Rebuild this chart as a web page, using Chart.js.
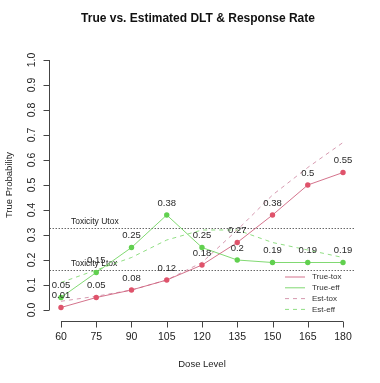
<!DOCTYPE html>
<html>
<head>
<meta charset="utf-8">
<script src="https://cdn.jsdelivr.net/npm/chart.js@4.4.1/dist/chart.umd.min.js"></script>
<style>
  html, body { margin: 0; padding: 0; background: #fff; }
  #wrap { width: 380px; height: 383px; }
</style>
</head>
<body>
<div id="wrap"><canvas id="c" width="380" height="383"></canvas></div>
<script>
// dose levels and probabilities
const doses = [60, 75, 90, 105, 120, 135, 150, 165, 180];
const trueTox = [0.01, 0.05, 0.08, 0.12, 0.18, 0.27, 0.38, 0.5, 0.55];
const trueEff = [0.05, 0.15, 0.25, 0.38, 0.25, 0.2, 0.19, 0.19, 0.19];
const estTox = [0.035, 0.055, 0.08, 0.12, 0.19, 0.32, 0.46, 0.57, 0.67];
const estEff = [0.11, 0.16, 0.21, 0.28, 0.32, 0.32, 0.27, 0.24, 0.21];
const yTicks = [0, 0.1, 0.2, 0.3, 0.4, 0.5, 0.6, 0.7, 0.8, 0.9, 1.0];
const refLabels = ['Toxicity Utox', 'Toxicity Ltox'];
const refValues = [0.33, 0.16];

const RED = '#DF536B';
const GREEN = '#61D04F';
const FONT = '"Liberation Sans", Arial, sans-serif';

const pts = (arr) => doses.map((d, i) => ({ x: d, y: arr[i] }));

// R style axes, reference lines, labels, legend
const rPlot = {
    id: 'rPlot',
    beforeDatasetsDraw(chart) {
        const { ctx, chartArea: a, scales: { x, y } } = chart;
        ctx.save();
        ctx.strokeStyle = '#222';
        ctx.lineWidth = 1;
        ctx.setLineDash([1, 2]);
        refValues.forEach((v, i) => {
            const py = Math.round(y.getPixelForValue(v)) + 0.5;
            ctx.beginPath();
            ctx.moveTo(a.left, py);
            ctx.lineTo(a.right, py);
            ctx.stroke();
            ctx.fillStyle = '#222';
            ctx.font = '8.5px ' + FONT;
            ctx.textAlign = 'left';
            ctx.textBaseline = 'middle';
            ctx.fillText(refLabels[i], x.getPixelForValue(doses[0]) + 10, py - 7);
        });
        ctx.restore();
    },
    afterDraw(chart) {
        const { ctx, chartArea: a, scales: { x, y } } = chart;
        ctx.save();
        ctx.strokeStyle = '#444';
        ctx.lineWidth = 1;
        ctx.fillStyle = '#222';

        // y axis
        const ax = Math.round(a.left) - 0.5;
        ctx.beginPath();
        ctx.moveTo(ax, y.getPixelForValue(yTicks[0]));
        ctx.lineTo(ax, y.getPixelForValue(yTicks[yTicks.length - 1]));
        yTicks.forEach(v => {
            const py = Math.round(y.getPixelForValue(v)) + 0.5;
            ctx.moveTo(ax, py);
            ctx.lineTo(ax - 6, py);
        });
        ctx.stroke();
        ctx.font = '10.5px ' + FONT;
        ctx.textAlign = 'center';
        ctx.textBaseline = 'middle';
        yTicks.forEach(v => {
            ctx.save();
            ctx.translate(ax - 17, y.getPixelForValue(v));
            ctx.rotate(-Math.PI / 2);
            ctx.fillText(v.toFixed(1), 0, 0);
            ctx.restore();
        });

        // x axis
        const ay = Math.round(a.bottom) + 1.5;
        ctx.beginPath();
        ctx.moveTo(x.getPixelForValue(doses[0]), ay);
        ctx.lineTo(x.getPixelForValue(doses[doses.length - 1]), ay);
        doses.forEach(d => {
            const px = Math.round(x.getPixelForValue(d)) + 0.5;
            ctx.moveTo(px, ay);
            ctx.lineTo(px, ay + 6);
        });
        ctx.stroke();
        doses.forEach(d => {
            ctx.fillText(String(d), x.getPixelForValue(d), ay + 16);
        });

        // titles
        const cx = (a.left + a.right) / 2;
        ctx.font = '9.5px ' + FONT;
        ctx.fillText('Dose Level', cx, 364);
        ctx.save();
        ctx.translate(9, (a.top + a.bottom) / 2);
        ctx.rotate(-Math.PI / 2);
        ctx.fillText('True Probability', 0, 0);
        ctx.restore();
        ctx.font = 'bold 12px ' + FONT;
        ctx.fillStyle = '#111';
        ctx.fillText('True vs. Estimated DLT & Response Rate', cx - 4, 19);

        // value labels above true points
        ctx.font = '9.5px ' + FONT;
        ctx.fillStyle = '#2a2a2a';
        [0, 1].forEach(di => {
            const meta = chart.getDatasetMeta(di);
            const vals = chart.data.datasets[di].data;
            meta.data.forEach((el, i) => {
                ctx.fillText(String(vals[i].y), el.x, el.y - 12);
            });
        });

        // legend, bottom right inside plot
        const items = chart.data.datasets;
        const lx = 285, tx = 312;
        ctx.font = '8px ' + FONT;
        ctx.textAlign = 'left';
        items.forEach((ds, i) => {
            const py = 277 + i * 10.8;
            ctx.strokeStyle = ds.borderColor;
            ctx.setLineDash(ds.borderDash || []);
            ctx.beginPath();
            ctx.moveTo(lx, py);
            ctx.lineTo(lx + 20, py);
            ctx.stroke();
            ctx.fillStyle = '#333';
            ctx.fillText(ds.label, tx, py);
        });
        ctx.restore();
    }
};

new Chart(document.getElementById('c'), {
    type: 'scatter',
    data: {
        datasets: [
            {
                label: 'True-tox',
                data: pts(trueTox),
                showLine: true,
                borderColor: 'rgba(205,90,120,0.85)',
                borderWidth: 1,
                pointBackgroundColor: RED,
                pointBorderWidth: 0,
                pointRadius: 2.7
            },
            {
                label: 'True-eff',
                data: pts(trueEff),
                showLine: true,
                borderColor: 'rgba(97,208,79,0.8)',
                borderWidth: 1,
                pointBackgroundColor: GREEN,
                pointBorderWidth: 0,
                pointRadius: 2.7
            },
            {
                label: 'Est-tox',
                data: pts(estTox),
                showLine: true,
                borderColor: 'rgba(200,120,150,0.75)',
                borderWidth: 1,
                borderDash: [4, 4],
                pointRadius: 0
            },
            {
                label: 'Est-eff',
                data: pts(estEff),
                showLine: true,
                borderColor: 'rgba(97,208,79,0.7)',
                borderWidth: 1,
                borderDash: [4, 4],
                pointRadius: 0
            }
        ]
    },
    options: {
        responsive: false,
        animation: false,
        layout: { padding: { left: 49.7, right: 25.7, top: 50, bottom: 63 } },
        scales: {
            x: { type: 'linear', min: 55.2, max: 184.8, display: false },
            y: { type: 'linear', min: -0.04, max: 1.04, display: false }
        },
        plugins: {
            legend: { display: false },
            title: { display: false },
            tooltip: { enabled: false }
        }
    },
    plugins: [rPlot]
});
</script>
</body>
</html>
